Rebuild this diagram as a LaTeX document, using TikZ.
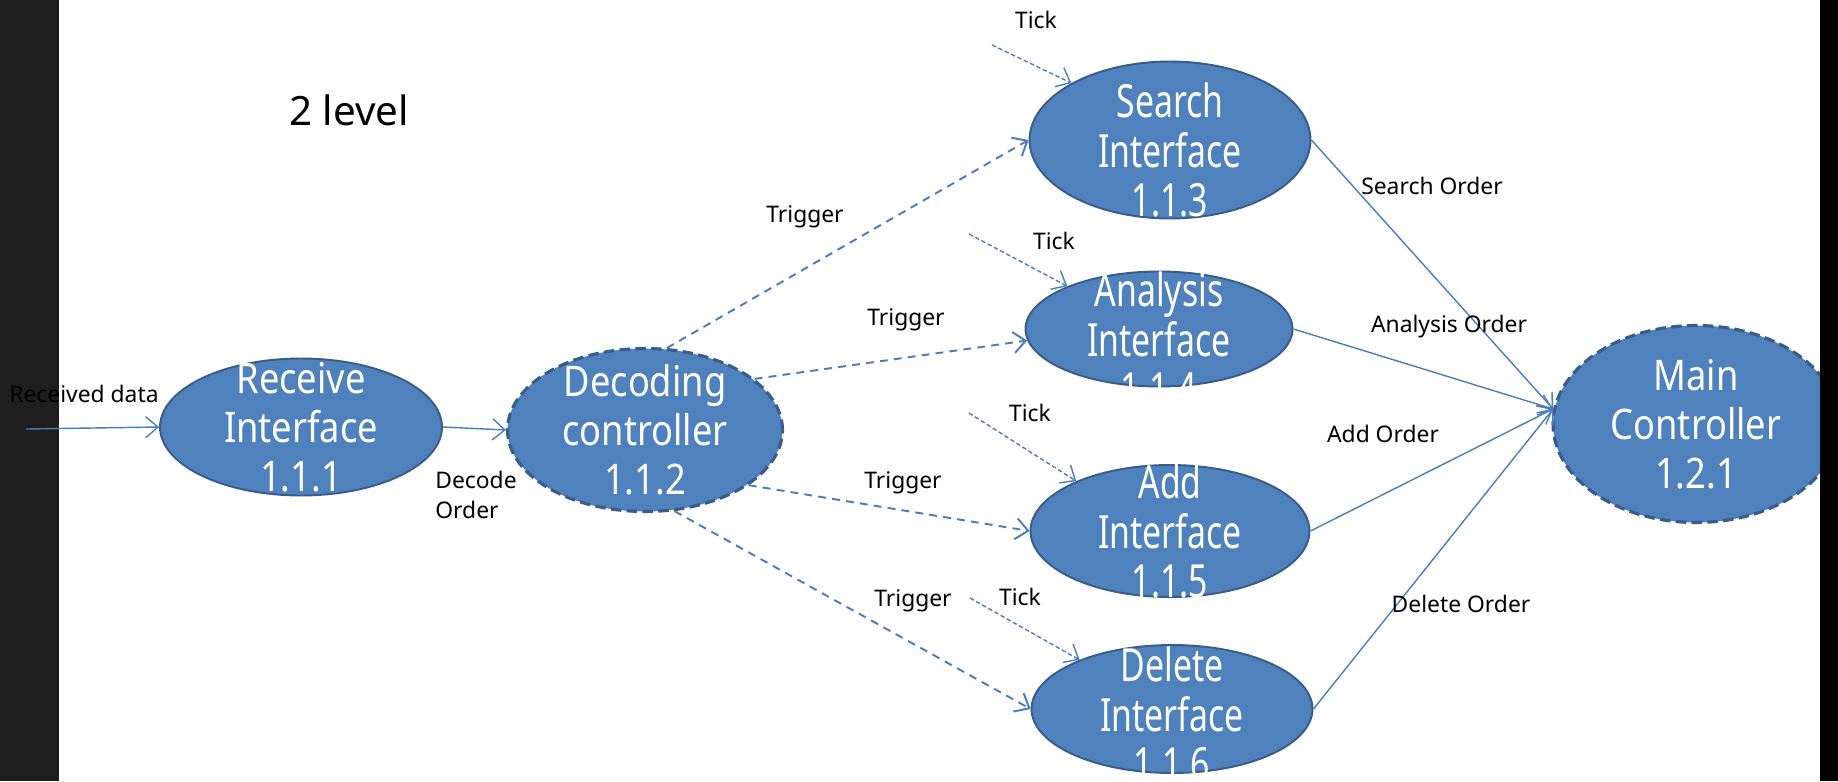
\documentclass[tikz,border=0pt]{standalone}
\usepackage{fontspec}
\setmainfont{Noto Sans}
\newfontfamily\bubblefont[FakeStretch=0.86]{Noto Sans}
\newfontfamily\narrowfont[FakeStretch=0.74]{Noto Sans}
\usetikzlibrary{arrows.meta, shapes.geometric}

\definecolor{bubblefill}{HTML}{4F81BD}
\definecolor{bubbleline}{HTML}{385D8A}
\definecolor{flowline}{HTML}{4A7EBB}
\definecolor{darkband}{HTML}{1E1E1E}

\begin{document}
\begin{tikzpicture}[x=0.02cm, y=-0.02cm, font=\fontsize{13}{17}\selectfont,
  bubble/.style={ellipse, draw=bubbleline, fill=bubblefill, line width=1.1pt, inner sep=0pt},
  ctrl/.style={bubble, line width=1.8pt, dash pattern=on 6pt off 3pt},
  btext/.style={text=white, align=center, font=\bubblefont\fontsize{24}{28}\selectfont},
  ntext/.style={text=white, align=center, font=\narrowfont\fontsize{26}{28}\selectfont},
  order/.style={draw=flowline, line width=0.8pt, -{Straight Barb[length=7pt,width=12pt]}},
  trigger/.style={order, line width=1.1pt, dash pattern=on 4.5pt off 3.5pt},
  tick/.style={order, line width=0.8pt, dash pattern=on 2.5pt off 1.5pt}]

\useasboundingbox (0,0) rectangle (1838,781);
\fill[darkband] (0,0) rectangle (59,781);

\node[font=\fontsize{23}{28}\selectfont] (title) at (349,110) {2 level};

% processes
\node[bubble, minimum width=5.64cm, minimum height=2.74cm,
  label={[btext]center:Receive\\Interface\\1.1.1}] (recv) at (301,427) {};
\node[ctrl, minimum width=5.5cm, minimum height=3.26cm,
  label={[btext]center:Decoding\\controller\\1.1.2}] (dec) at (645,430) {};
\node[bubble, minimum width=5.62cm, minimum height=3.14cm,
  label={[ntext, yshift=-0.2cm]center:Search\\Interface\\1.1.3}] (search) at (1170,140) {};
\node[bubble, minimum width=5.34cm, minimum height=2.3cm,
  label={[ntext, yshift=-0.2cm]center:Analysis\\Interface\\1.1.4}] (ana) at (1159,329) {};
\node[bubble, minimum width=5.58cm, minimum height=2.64cm,
  label={[ntext]center:Add\\Interface\\1.1.5}] (add) at (1170,531) {};
\node[bubble, minimum width=5.62cm, minimum height=2.56cm,
  label={[ntext, yshift=-0.1cm]center:Delete\\Interface\\1.1.6}] (del) at (1172,709) {};
\node[ctrl, minimum width=5.72cm, minimum height=3.94cm,
  label={[btext]center:Main\\Controller\\1.2.1}] (main) at (1696,424) {};

\path
(26,429) coordinate (datain)
(992,45) coordinate (tickS)
(969,234) coordinate (tickA)
(969,413) coordinate (tickD)
(970,598) coordinate (tickE)
;

% data flow
\draw[order] (datain) -- (recv.west);
\draw[order] (recv.east) -- (dec.west);
\draw[order] (search.east) -- (main.174);
\draw[order] (ana.east) -- (main.174);
\draw[order] (add.east) -- (main.174);
\draw[order] (del.east) -- (main.174);

% triggers
\draw[trigger] (dec.75) -- (search.west);
\draw[trigger] (dec.25) -- (ana.185);
\draw[trigger] (dec.-28) -- (add.west);
\draw[trigger] (dec.-70) -- (del.west);

% ticks
\draw[tick] (tickS) -- (search.150);
\draw[tick] (tickA) -- (ana.155);
\draw[tick] (tickD) -- (add.152);
\draw[tick] (tickE) -- (del.152);

% labels
\node (lbldata) at (84,394) {Received data};
\node[align=left] (lbldecode) at (476,495) {Decode\\Order};
\node (lbltrigS) at (805,217) {Trigger};
\node (lbltrigA) at (906,320) {Trigger};
\node (lbltrigD) at (903,483) {Trigger};
\node (lbltrigE) at (913,601) {Trigger};
\node (lbltickS) at (1036,20) {Tick};
\node (lbltickA) at (1054,241) {Tick};
\node (lbltickD) at (1030,413) {Tick};
\node (lbltickE) at (1020,597) {Tick};
\node (lblsearch) at (1432,186) {Search Order};
\node (lblana) at (1449,327) {Analysis Order};
\node (lbladd) at (1383,434) {Add Order};
\node (lbldel) at (1461,604) {Delete Order};

\fill[black] (1820,0) rectangle (1838,781);
\end{tikzpicture}
\end{document}
